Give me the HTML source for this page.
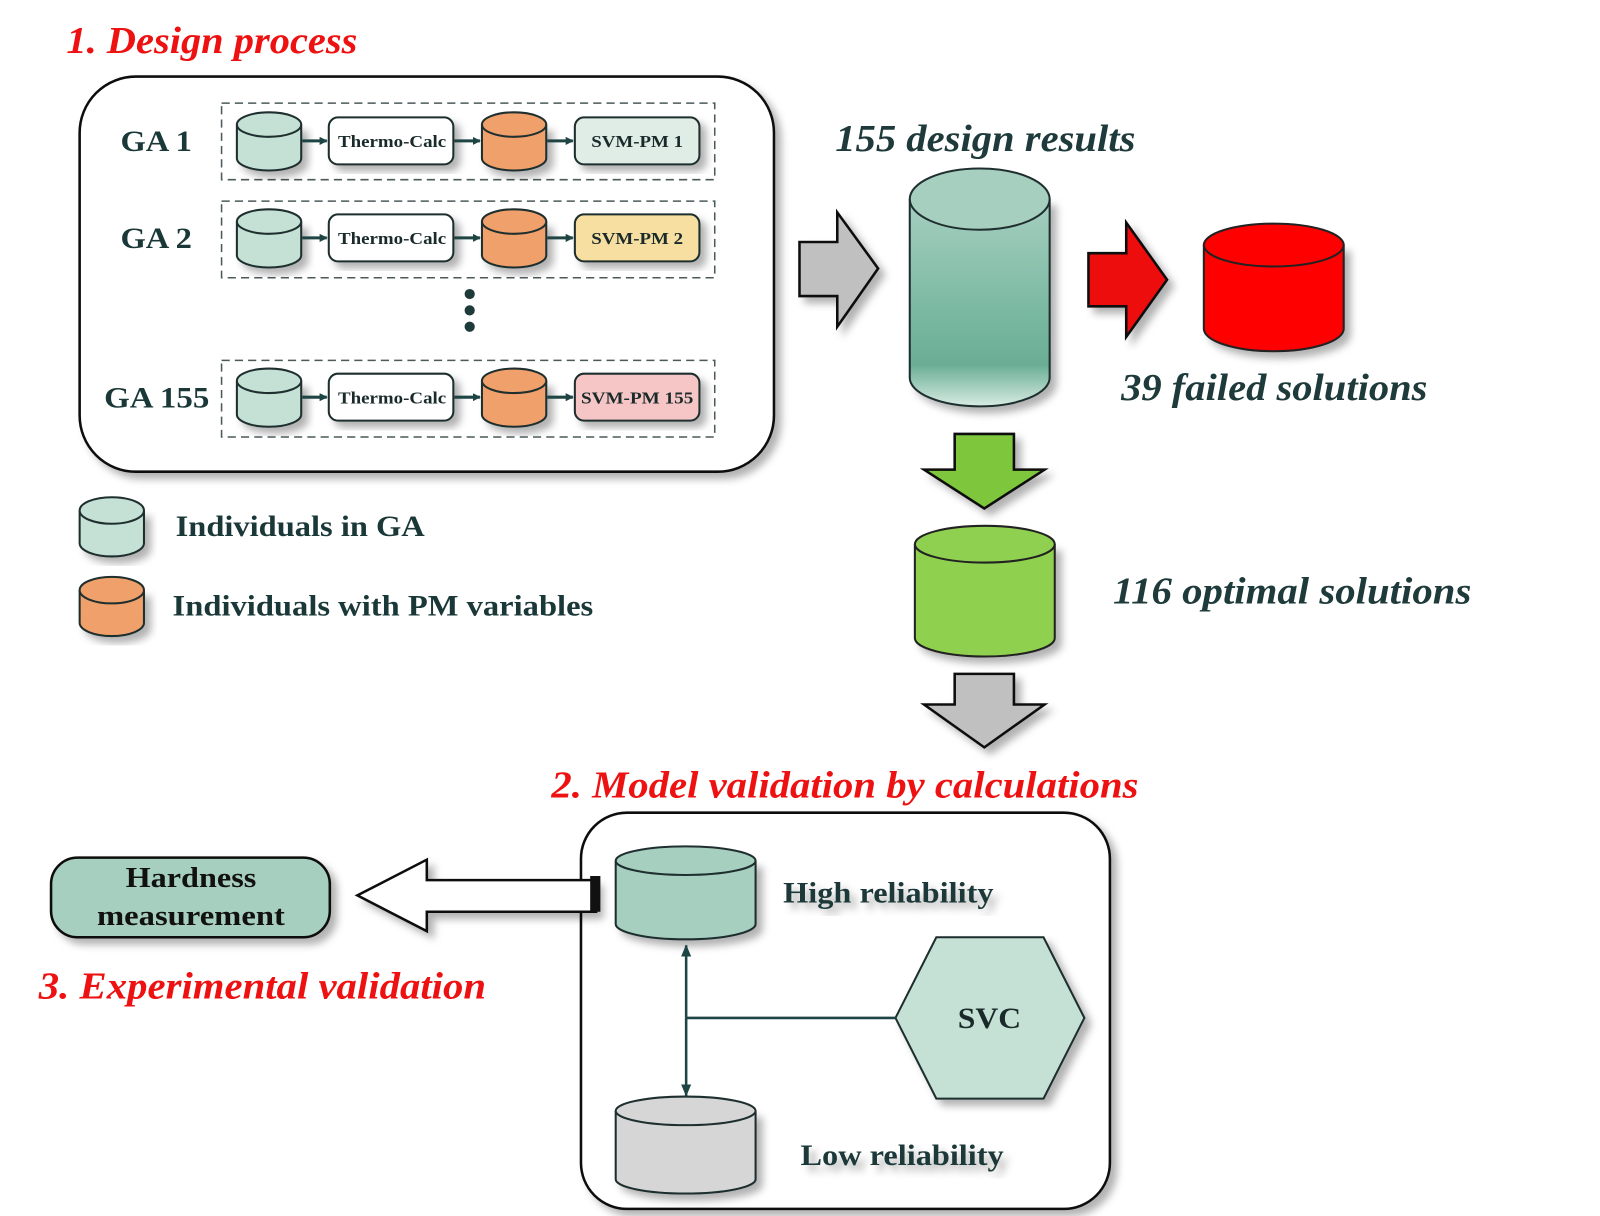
<!DOCTYPE html>
<html><head><meta charset="utf-8"><style>
html,body{margin:0;padding:0;background:#fff;}
svg{display:block;}
text{font-family:"Liberation Serif",serif;font-weight:bold;}
.t{fill:#1b3838;}
.r{fill:#ee1111;font-style:italic;font-size:37px;}
.it{font-style:italic;fill:#1e3a3a;font-size:37px;}
.s{stroke:#1f2f2f;stroke-width:2;}
</style></head><body>
<svg width="1600" height="1216" viewBox="0 0 1567 1191" preserveAspectRatio="none" xmlns="http://www.w3.org/2000/svg">
<defs>
<filter id="sh" x="-10%" y="-10%" width="130%" height="130%"><feDropShadow dx="6" dy="6" stdDeviation="4" flood-color="#000" flood-opacity="0.3"/></filter>
<linearGradient id="tg" x1="0" y1="0" x2="0" y2="1"><stop offset="0" stop-color="#a6cfc0"/><stop offset="0.55" stop-color="#7ab8a2"/><stop offset="0.8" stop-color="#6aae95"/><stop offset="1" stop-color="#d8ebe3"/></linearGradient>
<marker id="ah" markerWidth="8" markerHeight="8" refX="7" refY="4" orient="auto" markerUnits="userSpaceOnUse"><path d="M0,0 L8,4 L0,8 z" fill="#1f4444"/></marker>
<marker id="am" markerWidth="12" markerHeight="10" refX="11" refY="5" orient="auto" markerUnits="userSpaceOnUse"><path d="M0,0 L12,5 L0,10 z" fill="#1f4444"/></marker>
</defs>

<text x="65" y="52" class="r" textLength="285" lengthAdjust="spacingAndGlyphs">1. Design process</text>
<rect x="78" y="75" width="680" height="387" rx="55" fill="#fff" stroke="#111" stroke-width="2.5" filter="url(#sh)"/>

<g fill="none" stroke="#4a5a5a" stroke-width="1.5" stroke-dasharray="8,5">
<rect x="217" y="101" width="483" height="75"/>
<rect x="217" y="197" width="483" height="75"/>
<rect x="217" y="353" width="483" height="75"/>
</g>
<g class="t" font-size="29">
<text x="118" y="148" textLength="70" lengthAdjust="spacingAndGlyphs">GA 1</text>
<text x="118" y="243" textLength="70" lengthAdjust="spacingAndGlyphs">GA 2</text>
<text x="102" y="399" textLength="103" lengthAdjust="spacingAndGlyphs">GA 155</text>
</g>

<g class="s">
<path d="M232 122 V155 A31.5 12 0 0 0 295 155 V122" fill="#c5e0d4" filter="url(#sh)"/><ellipse cx="263.5" cy="122" rx="31.5" ry="12" fill="#c5e0d4"/>
<path d="M472 122 V155 A31.5 12 0 0 0 535 155 V122" fill="#f0a06a" filter="url(#sh)"/><ellipse cx="503.5" cy="122" rx="31.5" ry="12" fill="#f0a06a"/>
<rect x="322" y="115" width="122" height="46" rx="9" fill="#fff" filter="url(#sh)"/>
<rect x="563" y="115" width="122" height="46" rx="9" fill="#e0ede6" filter="url(#sh)"/>
<path d="M232 217 V250 A31.5 12 0 0 0 295 250 V217" fill="#c5e0d4" filter="url(#sh)"/><ellipse cx="263.5" cy="217" rx="31.5" ry="12" fill="#c5e0d4"/>
<path d="M472 217 V250 A31.5 12 0 0 0 535 250 V217" fill="#f0a06a" filter="url(#sh)"/><ellipse cx="503.5" cy="217" rx="31.5" ry="12" fill="#f0a06a"/>
<rect x="322" y="210" width="122" height="46" rx="9" fill="#fff" filter="url(#sh)"/>
<rect x="563" y="210" width="122" height="46" rx="9" fill="#f6dfa0" filter="url(#sh)"/>
<path d="M232 373 V406 A31.5 12 0 0 0 295 406 V373" fill="#c5e0d4" filter="url(#sh)"/><ellipse cx="263.5" cy="373" rx="31.5" ry="12" fill="#c5e0d4"/>
<path d="M472 373 V406 A31.5 12 0 0 0 535 406 V373" fill="#f0a06a" filter="url(#sh)"/><ellipse cx="503.5" cy="373" rx="31.5" ry="12" fill="#f0a06a"/>
<rect x="322" y="366" width="122" height="46" rx="9" fill="#fff" filter="url(#sh)"/>
<rect x="563" y="366" width="122" height="46" rx="9" fill="#f6c6c6" filter="url(#sh)"/>
</g>
<g stroke="#1f4444" stroke-width="3" marker-end="url(#ah)">
<line x1="296" y1="138" x2="320" y2="138"/><line x1="445" y1="138" x2="470" y2="138"/><line x1="536" y1="138" x2="561" y2="138"/>
<line x1="296" y1="233" x2="320" y2="233"/><line x1="445" y1="233" x2="470" y2="233"/><line x1="536" y1="233" x2="561" y2="233"/>
<line x1="296" y1="389" x2="320" y2="389"/><line x1="445" y1="389" x2="470" y2="389"/><line x1="536" y1="389" x2="561" y2="389"/>
</g>
<g font-size="17" fill="#1a2a2a">
<text x="331" y="144" textLength="106" lengthAdjust="spacingAndGlyphs">Thermo-Calc</text><text x="579" y="144" textLength="90" lengthAdjust="spacingAndGlyphs">SVM-PM 1</text>
<text x="331" y="239" textLength="106" lengthAdjust="spacingAndGlyphs">Thermo-Calc</text><text x="579" y="239" textLength="90" lengthAdjust="spacingAndGlyphs">SVM-PM 2</text>
<text x="331" y="395" textLength="106" lengthAdjust="spacingAndGlyphs">Thermo-Calc</text><text x="569" y="395" textLength="110" lengthAdjust="spacingAndGlyphs">SVM-PM 155</text>
</g>
<g fill="#1f3a3a"><circle cx="460" cy="288" r="5"/><circle cx="460" cy="304" r="5"/><circle cx="460" cy="320" r="5"/></g>

<g class="s">
<path d="M78 500 V532 A31.5 13 0 0 0 141 532 V500" fill="#c5e0d4" filter="url(#sh)"/><ellipse cx="109.5" cy="500" rx="31.5" ry="13" fill="#c5e0d4"/>
<path d="M78 578 V610 A31.5 13 0 0 0 141 610 V578" fill="#f0a06a" filter="url(#sh)"/><ellipse cx="109.5" cy="578" rx="31.5" ry="13" fill="#f0a06a"/>
</g>
<text x="172" y="525" class="t" font-size="29" textLength="244" lengthAdjust="spacingAndGlyphs">Individuals in GA</text>
<text x="169" y="603" class="t" font-size="29" textLength="412" lengthAdjust="spacingAndGlyphs">Individuals with PM variables</text>

<path d="M783 237 H820 V208 L860 263 L820 320 V290 H783 Z" fill="#c0c0c0" stroke="#111" stroke-width="2.5" filter="url(#sh)"/>
<text x="818" y="148" class="it" textLength="294" lengthAdjust="spacingAndGlyphs">155 design results</text>
<path d="M891 195 V370 A68.5 28 0 0 0 1028 370 V195" fill="url(#tg)" stroke="#1f2f2f" stroke-width="2" filter="url(#sh)"/>
<ellipse cx="959.5" cy="195" rx="68.5" ry="30" fill="#a6cfc0" stroke="#1f2f2f" stroke-width="2"/>

<path d="M1066 248 H1103 V218 L1143 274 L1103 330 V300 H1066 Z" fill="#ee1111" stroke="#111" stroke-width="2.5" filter="url(#sh)"/>
<path d="M1179 240 V322 A68.5 22 0 0 0 1316 322 V240" fill="#ff0000" stroke="#222" stroke-width="2" filter="url(#sh)"/>
<ellipse cx="1247.5" cy="240" rx="68.5" ry="21" fill="#ff0000" stroke="#222" stroke-width="2"/>
<text x="1098" y="392" class="it" textLength="300" lengthAdjust="spacingAndGlyphs">39 failed solutions</text>

<path d="M935 425 H993 V460 H1023 L964 498 L905 460 H935 Z" fill="#7ec63a" stroke="#111" stroke-width="2.5" filter="url(#sh)"/>
<path d="M896 533 V625 A68.5 18 0 0 0 1033 625 V533" fill="#90d050" stroke="#222" stroke-width="2" filter="url(#sh)"/>
<ellipse cx="964.5" cy="533" rx="68.5" ry="18" fill="#90d050" stroke="#222" stroke-width="2"/>
<text x="1090" y="591" class="it" textLength="351" lengthAdjust="spacingAndGlyphs">116 optimal solutions</text>

<path d="M935 660 H993 V690 H1023 L964 732 L905 690 H935 Z" fill="#c0c0c0" stroke="#111" stroke-width="2.5" filter="url(#sh)"/>

<text x="540" y="781" class="r" textLength="575" lengthAdjust="spacingAndGlyphs">2. Model validation by calculations</text>
<rect x="569" y="796" width="518" height="388" rx="45" fill="#fff" stroke="#111" stroke-width="2.5" filter="url(#sh)"/>

<path d="M603 843 V905 A68.5 15 0 0 0 740 905 V843" fill="#a6cfc0" class="s" filter="url(#sh)"/>
<ellipse cx="671.5" cy="843" rx="68.5" ry="14" fill="#a6cfc0" class="s"/>
<text x="767" y="884" class="t" font-size="29" filter="url(#sh)" textLength="206" lengthAdjust="spacingAndGlyphs">High reliability</text>
<path d="M603 1088 V1155 A68.5 14 0 0 0 740 1155 V1088" fill="#d6d6d6" class="s" filter="url(#sh)"/>
<ellipse cx="671.5" cy="1088" rx="68.5" ry="14" fill="#d6d6d6" class="s"/>
<text x="784" y="1141" class="t" font-size="29" filter="url(#sh)" textLength="199" lengthAdjust="spacingAndGlyphs">Low reliability</text>

<polygon points="877,997 917,918 1022,918 1062,997 1022,1076 917,1076" fill="#c5e0d4" class="s" filter="url(#sh)"/>
<text x="938" y="1007" font-size="29" fill="#1a2a2a" textLength="62" lengthAdjust="spacingAndGlyphs">SVC</text>
<g stroke="#1f4444" stroke-width="2.5" fill="none">
<line x1="672" y1="997" x2="672" y2="926" marker-end="url(#am)"/>
<line x1="672" y1="997" x2="672" y2="1073" marker-end="url(#am)"/>
<line x1="672" y1="997" x2="877" y2="997"/>
</g>

<path d="M585 862 H418 V842 L350 877 L418 912 V893 H585" fill="#fff" stroke="#111" stroke-width="2.5" filter="url(#sh)"/>
<rect x="578" y="858" width="10" height="35" fill="#111"/>
<rect x="50" y="840" width="273" height="78" rx="26" fill="#a6cfc0" stroke="#111" stroke-width="2.5" filter="url(#sh)"/>
<text x="123" y="869" font-size="28" fill="#111" textLength="128" lengthAdjust="spacingAndGlyphs">Hardness</text>
<text x="95" y="906" font-size="28" fill="#111" textLength="184" lengthAdjust="spacingAndGlyphs">measurement</text>
<text x="38" y="978" class="r" textLength="438" lengthAdjust="spacingAndGlyphs">3. Experimental validation</text>
</svg>
</body></html>
